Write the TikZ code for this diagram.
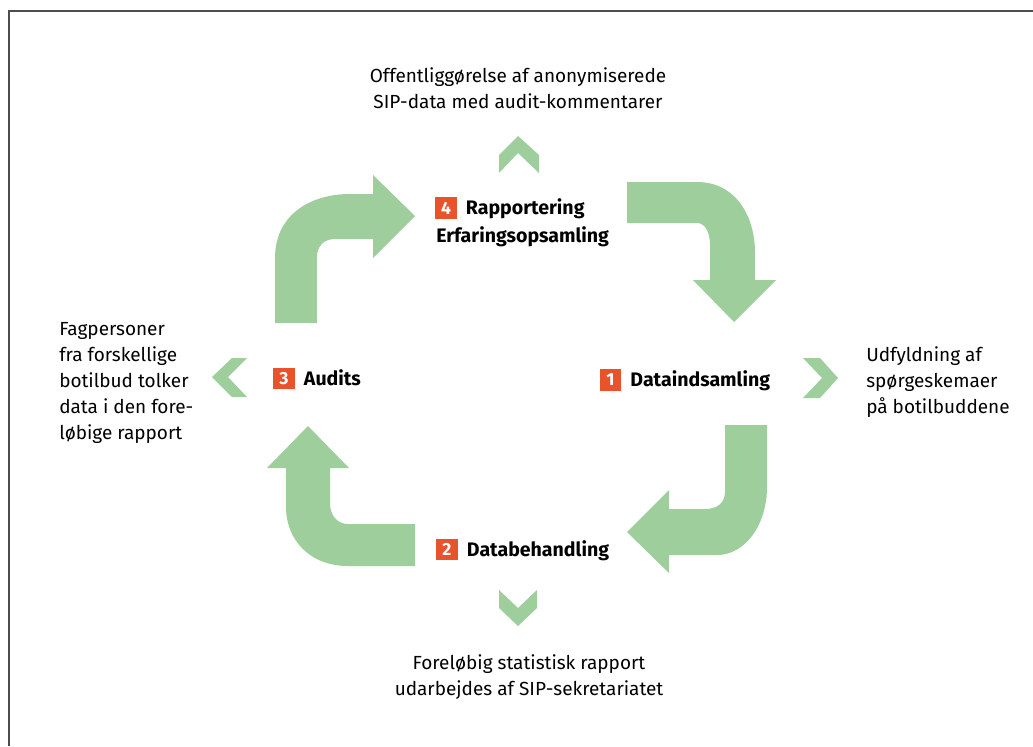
\documentclass[tikz,border=0pt]{standalone}
\usepackage{fontspec}
\setmainfont{Fira Sans}
\usetikzlibrary{positioning}
\definecolor{arrowgreen}{HTML}{9ECE9C}
\definecolor{stepred}{HTML}{E9532B}
\tikzset{
	bentarrow/.style={fill=arrowgreen, draw=none},
	chev/.style={fill=arrowgreen, draw=none},
	numbox/.style={fill=stepred, text=white, font=\bfseries\fontsize{12.5}{13}\selectfont, minimum width=15.6pt, minimum height=15.2pt, inner sep=0pt},
	steptext/.style={font=\bfseries\fontsize{13.9}{15}\selectfont, inner sep=0pt, yshift=-2pt},
	note/.style={font=\fontsize{13.5}{18.4}\selectfont, inner sep=0pt},
}

\begin{document}
\begin{tikzpicture}[x=0.025cm, y=-0.025cm]
			%%%%% START %%%%%
			
			\useasboundingbox (0, 0) rectangle (1033, 746);
			\draw[line width=1.4pt, color=black!70] (9, 746) -- (9, 11) -- (1033, 11);
			
			% bent arrows
			\draw[bentarrow] (275, 323) -- (275, 258) .. controls (275, 215) and (310, 194) .. (350, 194) -- (373, 194) -- (373, 175) -- (415, 216) -- (373, 258) -- (373, 239) -- (335, 239) .. controls (324, 239) and (317, 246) .. (317, 257) -- (317, 323) -- cycle;
			\draw[bentarrow] (627, 182) -- (697, 182) .. controls (735, 182) and (755, 215) .. (755, 253) -- (755, 280) -- (776, 280) -- (734, 322) -- (693, 280) -- (710, 280) -- (710, 245) .. controls (710, 232) and (705, 223) .. (697, 223) -- (627, 223) -- cycle;
			\draw[bentarrow] (725, 425) -- (767, 425) -- (767, 487) .. controls (767, 525) and (745, 555) .. (717, 555) -- (669, 555) -- (669, 573) -- (627, 532) -- (669, 490) -- (669, 509) -- (705, 509) .. controls (717, 509) and (725, 503) .. (725, 492) -- cycle;
			\draw[bentarrow] (415, 566) -- (348, 566) .. controls (310, 566) and (286, 540) .. (286, 507) -- (286, 468) -- (267, 468) -- (308, 426) -- (349, 468) -- (330, 468) -- (330, 503) .. controls (330, 515) and (337, 524) .. (348, 524) -- (415, 524) -- cycle;
			
			% chevrons
			\draw[chev] (518, 136) -- (539, 155) -- (539, 173) -- (518, 153) -- (499, 173) -- (499, 155) -- cycle;
			\draw[chev] (838, 378) -- (820, 358) -- (803, 358) -- (822, 378) -- (803, 398) -- (820, 398) -- cycle;
			\draw[chev] (518, 626) -- (537, 608) -- (537, 590) -- (518, 608) -- (499, 590) -- (499, 608) -- cycle;
			\draw[chev] (212, 377) -- (232, 358) -- (247, 358) -- (228, 377) -- (247, 397) -- (232, 397) -- cycle;
			
			% steps
			\node[numbox] (n4) at (446, 208) {4};
			\node[steptext, right=6pt of n4.east, anchor=mid west] (rapport) {Rapportering};
			\node[steptext, anchor=mid west] (erfaring) at (436, 236) {Erfaringsopsamling};
			
			\node[numbox] (n1) at (610.5, 380) {1};
			\node[steptext, right=6pt of n1.east, anchor=mid west] (indsamling) {Dataindsamling};
			
			\node[numbox] (n2) at (447, 549.5) {2};
			\node[steptext, right=6pt of n2.east, anchor=mid west] (behandling) {Databehandling};
			
			\node[numbox] (n3) at (284, 378.5) {3};
			\node[steptext, right=6pt of n3.east, anchor=mid west] (audits) {Audits};
			
			% notes
			\node[note, align=center] (offentlig) at (518, 88) {Offentliggørelse af anonymiserede\\SIP-data med audit-kommentarer};
			\node[note, align=left, anchor=west] (udfyld) at (866, 382) {Udfyldning af\\spørgeskemaer\\på botilbuddene};
			\node[note, align=center] (forelob) at (529, 677) {Foreløbig statistisk rapport\\udarbejdes af SIP-sekretariatet};
			\node[note, align=left, anchor=west] (fagpers) at (59, 383) {Fagpersoner\\fra forskellige\\botilbud tolker\\data i den fore-\\løbige rapport};
			
			%%%%% END %%%%%
\end{tikzpicture}
\end{document}
